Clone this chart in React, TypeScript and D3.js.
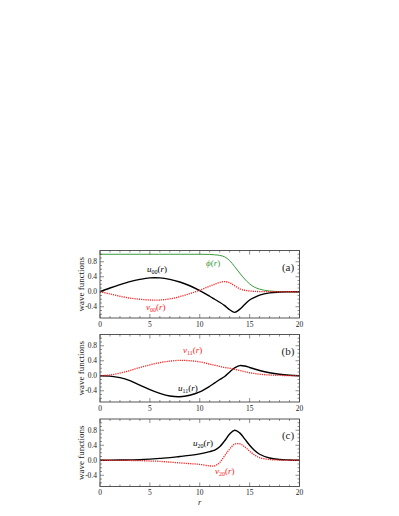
import React, { useEffect, useRef } from "react";
import * as d3 from "d3";

// radial grid shared by every curve
const rGrid = [0, 1, 2, 3, 4, 5, 6, 7, 8, 9, 10, 11, 11.5, 12, 12.5, 13, 13.5, 14, 14.5, 15, 15.5, 16, 17, 18, 19, 20];

// panel (a)
const phi = [1, 1, 1, 1, 1, 1, 1, 1, 1, 1, 1, 0.995, 0.985, 0.97, 0.93, 0.83, 0.67, 0.5, 0.34, 0.21, 0.12, 0.07, 0.02, 0.005, 0.001, 0];
const u00 = [0, 0.1, 0.19, 0.27, 0.33, 0.37, 0.37, 0.33, 0.26, 0.16, 0.03, -0.12, -0.2, -0.28, -0.37, -0.48, -0.55, -0.47, -0.34, -0.22, -0.15, -0.09, -0.03, -0.01, -0.003, 0];
const v00 = [0, -0.06, -0.12, -0.17, -0.2, -0.22, -0.22, -0.19, -0.13, -0.05, 0.04, 0.15, 0.2, 0.25, 0.27, 0.24, 0.16, 0.08, 0.04, 0.02, 0.01, 0.005, 0.002, 0, 0, 0];

// panel (b)
const u11 = [0, -0.01, -0.05, -0.13, -0.25, -0.37, -0.47, -0.54, -0.56, -0.52, -0.43, -0.28, -0.19, -0.1, -0.02, 0.1, 0.21, 0.27, 0.26, 0.22, 0.18, 0.14, 0.08, 0.04, 0.015, 0];
const v11 = [0, 0.02, 0.07, 0.14, 0.22, 0.29, 0.35, 0.39, 0.41, 0.4, 0.37, 0.31, 0.28, 0.25, 0.22, 0.2, 0.17, 0.14, 0.11, 0.08, 0.06, 0.04, 0.02, 0.01, 0.003, 0];

// panel (c)
const u20 = [0, 0.002, 0.005, 0.01, 0.015, 0.03, 0.05, 0.07, 0.1, 0.13, 0.17, 0.23, 0.27, 0.36, 0.52, 0.7, 0.8, 0.73, 0.57, 0.4, 0.26, 0.16, 0.06, 0.02, 0.007, 0];
const v20 = [0, 0, -0.003, -0.006, -0.01, -0.02, -0.03, -0.05, -0.07, -0.09, -0.11, -0.15, -0.15, -0.06, 0.12, 0.3, 0.43, 0.44, 0.36, 0.24, 0.14, 0.07, 0.02, 0.005, 0, 0];

const yTickValues = [-0.4, 0, 0.4, 0.8];
const yTickLabels = ["-0.4", "0.0", "0.4", "0.8"];
const xTickValues = [0, 5, 10, 15, 20];

const RED = "#ff2020";
const GREEN = "#3a9a3a";
const FONT = "'Liberation Serif', 'DejaVu Serif', serif";

const panels = [
  {
    tag: "(a)",
    curves: [
      { values: phi, color: GREEN, dash: null, width: 1, smooth: false },
      { values: u00, color: "#000", dash: null, width: 1.4, smooth: true },
      { values: v00, color: RED, dash: "1.2,1", width: 1.3, smooth: true },
    ],
    notes: [
      { base: "u", sub: "00", x: 147, y: 272, color: "#000" },
      { base: "\u03D5", sub: "", x: 206, y: 266, color: GREEN },
      { base: "v", sub: "00", x: 146, y: 310, color: RED },
    ],
  },
  {
    tag: "(b)",
    curves: [
      { values: u11, color: "#000", dash: null, width: 1.4, smooth: true },
      { values: v11, color: RED, dash: "1.2,1", width: 1.3, smooth: true },
    ],
    notes: [
      { base: "v", sub: "11", x: 183, y: 353, color: RED },
      { base: "u", sub: "11", x: 178, y: 391, color: "#000" },
    ],
  },
  {
    tag: "(c)",
    curves: [
      { values: u20, color: "#000", dash: null, width: 1.4, smooth: true },
      { values: v20, color: RED, dash: "1.2,1", width: 1.3, smooth: true },
    ],
    notes: [
      { base: "u", sub: "20", x: 193, y: 446, color: "#000" },
      { base: "v", sub: "20", x: 215, y: 474, color: RED },
    ],
  },
];

export default function App() {
  const ref = useRef<SVGSVGElement>(null);

  useEffect(() => {
    const svg = d3.select(ref.current);
    svg.selectAll("*").remove();

    const left = 100, right = 299.5, ph = 67.5;
    const tops = [250.5, 334.5, 419];
    const x = d3.scaleLinear().domain([0, 20]).range([left, right]);

    panels.forEach((p, i) => {
      const top = tops[i];
      const y = d3.scaleLinear().domain([-0.7, 1.1]).range([top + ph, top]);
      const g = svg.append("g");

      // curves
      p.curves.forEach((c) => {
        const line = d3
          .line<number>()
          .x((d, k) => x(rGrid[k]))
          .y((d) => y(d))
          .curve(c.smooth ? d3.curveCatmullRom.alpha(0.5) : d3.curveMonotoneX);
        g.append("path")
          .attr("d", line(c.values))
          .attr("fill", "none")
          .attr("stroke", c.color)
          .attr("stroke-width", c.width)
          .attr("stroke-dasharray", c.dash);
      });

      // frame
      g.append("rect")
        .attr("x", left)
        .attr("y", top)
        .attr("width", right - left)
        .attr("height", ph)
        .attr("fill", "none")
        .attr("stroke", "#444")
        .attr("stroke-width", 0.9);

      // ticks, inward on all four sides
      const tk = g.append("g").attr("stroke", "#444").attr("stroke-width", 0.6);
      d3.range(0, 21, 1).forEach((v) => {
        const len = v % 5 === 0 ? 4 : 2;
        tk.append("line").attr("x1", x(v)).attr("x2", x(v)).attr("y1", top + ph).attr("y2", top + ph - len);
        tk.append("line").attr("x1", x(v)).attr("x2", x(v)).attr("y1", top).attr("y2", top + len);
      });
      d3.range(-6, 11, 1).forEach((n) => {
        const v = n / 10;
        const len = n % 4 === 0 ? 4 : 2;
        tk.append("line").attr("x1", left).attr("x2", left + len).attr("y1", y(v)).attr("y2", y(v));
        tk.append("line").attr("x1", right).attr("x2", right - len).attr("y1", y(v)).attr("y2", y(v));
      });

      // tick labels
      yTickValues.forEach((v, k) => {
        g.append("text")
          .attr("x", left - 3)
          .attr("y", y(v) + 2.6)
          .attr("text-anchor", "end")
          .attr("font-family", FONT)
          .attr("font-size", 7.5)
          .attr("fill", "#222")
          .text(yTickLabels[k]);
      });
      xTickValues.forEach((v) => {
        g.append("text")
          .attr("x", x(v))
          .attr("y", top + ph + 8.5)
          .attr("text-anchor", "middle")
          .attr("font-family", FONT)
          .attr("font-size", 7.5)
          .attr("fill", "#222")
          .text(v);
      });

      // y axis title
      g.append("text")
        .attr("transform", `translate(83.5, ${top + ph / 2}) rotate(-90)`)
        .attr("text-anchor", "middle")
        .attr("font-family", FONT)
        .attr("font-size", 9)
        .attr("fill", "#222")
        .text("wave functions");

      // panel tag
      g.append("text")
        .attr("x", 288)
        .attr("y", top + 20)
        .attr("text-anchor", "middle")
        .attr("font-family", FONT)
        .attr("font-size", 11)
        .attr("fill", "#222")
        .text(p.tag);

      // curve names
      p.notes.forEach((n) => {
        const t = g.append("text")
          .attr("x", n.x)
          .attr("y", n.y)
          .attr("font-family", FONT)
          .attr("font-size", 9)
          .attr("fill", n.color);
        t.append("tspan").attr("font-style", "italic").text(n.base);
        if (n.sub) t.append("tspan").attr("font-size", 6).attr("dy", 2).text(n.sub);
        t.append("tspan").attr("dy", n.sub ? -2 : 0).text("(");
        t.append("tspan").attr("font-style", "italic").text("r");
        t.append("tspan").text(")");
      });
    });

    // x axis title
    svg.append("text")
      .attr("x", x(10))
      .attr("y", 505)
      .attr("text-anchor", "middle")
      .attr("font-family", FONT)
      .attr("font-style", "italic")
      .attr("font-size", 8.5)
      .attr("fill", "#222")
      .text("r");
  }, []);

  return (
    <svg
      ref={ref}
      width={399}
      height={516}
      style={{ position: "absolute", left: 0, top: 0, background: "#fff" }}
    />
  );
}
